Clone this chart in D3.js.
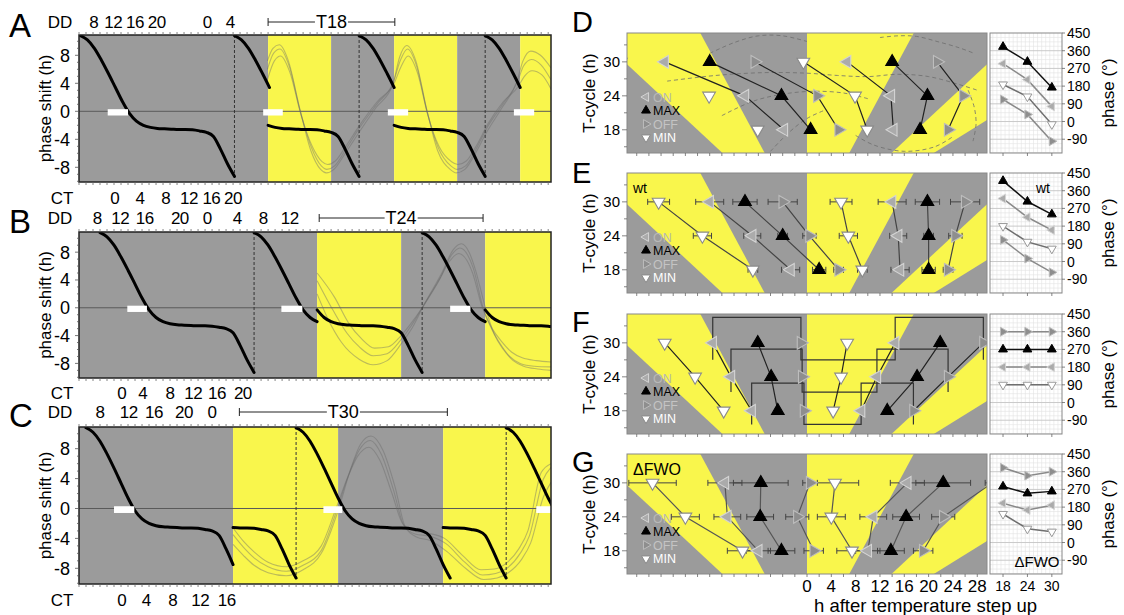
<!DOCTYPE html>
<html>
<head>
<meta charset="utf-8">
<script src="https://cdn.jsdelivr.net/npm/d3@7/dist/d3.min.js"></script>
<style>
html,body{margin:0;padding:0;background:#fff;}
svg{display:block;font-family:"Liberation Sans",Arial,Helvetica,sans-serif;}
</style>
</head>
<body>
<svg id="chart" width="1124" height="615"></svg>
<script>
// ================= DATA =================
// PRC shape: phase shift (h) against oscillator phase (h)
const prcPhase = [0,1,2,3,4,5,6,7,8,9,10,11,12,13,14,15,16,17,18,19,20,21,22];
const prcValue = [10.8,10.2,9.0,7.3,5.4,3.4,1.4,-0.3,-1.4,-2.0,-2.3,-2.45,-2.5,-2.55,-2.6,-2.6,-2.65,-2.8,-3.0,-3.6,-5.4,-7.5,-9.3];

// black curve pieces: [time (h) at which phase p0 sits, p0, p1]
const piecesA = [[0.2,0,22],[22.2,0,5],[27,9,22],[40,0,5],[45,9,22],[58,0,5]];
const piecesB = [[3,0,22],[25,0,9],[34,7,22],[49,0,9],[58,7,17]];
const piecesC = [[1,0,21],[22,13,22],[31,0,22],[52,13,22],[61,0,7]];

// dashed verticals (h)
const stepsA = [22.2,40,58];
const stepsB = [25,49];
const stepsC = [31,61];

// background bands [from h, to h, c=cold / w=warm]
const bandsA = [[0,27,'c'],[27,36,'w'],[36,45,'c'],[45,54,'w'],[54,63,'c'],[63,67.4,'w']];
const bandsB = [[0,34,'c'],[34,46,'w'],[46,58,'c'],[58,67.4,'w']];
const bandsC = [[0,22,'c'],[22,37,'w'],[37,52,'c'],[52,67.4,'w']];

// white bars [from h, to h]
const barsA = [[4.1,7.0],[26.3,29.1],[44.1,47.0],[62.1,65.0]];
const barsB = [[6.9,9.7],[28.9,31.9],[53.0,55.9]];
const barsC = [[5.0,7.9],[34.9,37.6],[65.3,67.4]];

// faint simulated traces [h, phase shift]
const traceA1 = [[26.9,6.0],[27.8,8.3],[28.7,8.9],[30,6.5],[31.6,0],[33.2,-5.2],[34.6,-7.8],[35.4,-8.3],[36.5,-7.8],[38,-5.6],[40.1,-2.3],[42.5,1.0],[44.9,4.2],[45.9,7.3],[46.9,8.9],[48.2,6.5],[49.7,0],[51.3,-5.2],[53.1,-7.8],[54,-8.3],[55.2,-7.8],[56.6,-5.6],[58.3,-2.3],[60.5,1],[62.6,4.2],[63.5,6.5],[64.6,7.4],[66,6.6],[67.4,4.5]];
const traceA2 = [[26.9,7.2],[27.7,9.0],[28.6,9.5],[29.9,7.2],[31.5,0.5],[33.1,-5.6],[34.5,-8.3],[35.3,-8.8],[36.4,-8.3],[37.9,-6.2],[40,-3],[42.4,0.5],[44.8,3.8],[45.8,7.8],[46.8,9.4],[48.1,7.2],[49.6,0.5],[51.2,-5.6],[53,-8.3],[53.9,-8.8],[55.1,-8.3],[56.5,-6.2],[58.2,-3],[60.4,0.5],[62.5,4.2],[63.4,7.2],[64.5,8.6],[65.9,8],[67.4,6.2]];
const traceA3 = [[26.9,4.5],[27.9,7.2],[28.8,7.9],[30.1,5.6],[31.7,-0.5],[33.3,-5],[34.7,-7.2],[35.5,-7.6],[36.6,-7.1],[38.1,-5],[40.2,-1.8],[42.6,1.4],[45,4.0],[46,6.4],[47,7.9],[48.3,5.6],[49.8,-0.5],[51.4,-5],[53.2,-7.2],[54.1,-7.6],[55.3,-7.1],[56.7,-5],[58.4,-1.8],[60.6,1.4],[62.7,3.5],[63.6,5],[64.7,5.8],[66.1,5.2],[67.4,3.2]];
const traceB1 = [[34,3.9],[36.3,-0.4],[38.3,-3.7],[40,-5.6],[42,-6.9],[44,-6.6],[45.9,-4.7],[47.5,-2.5],[49,0],[51.6,4.3],[53.2,7.6],[54.4,8.6],[55.5,7.6],[56.3,5.7],[57.7,0],[59,-3.2],[60.1,-5.1],[61.5,-7],[63,-8],[65,-8.4],[67.4,-8.5]];
const traceB2 = [[34,2.0],[35.5,-1.5],[37.5,-5],[40,-7.4],[42,-8.2],[44,-7.6],[46,-5.2],[47.8,-2.5],[49.2,0.3],[51.8,5],[53.4,8.3],[54.6,9.2],[55.7,8.0],[56.6,5.5],[57.9,0.5],[59.3,-3.8],[60.6,-6],[62,-7.6],[63.5,-8.4],[65.5,-8.8],[67.4,-9]];
const traceB3 = [[34,5],[36.5,1.5],[38.5,-2.2],[40.3,-4.4],[42.2,-5.8],[44.2,-5.6],[46,-4],[47.6,-2],[49,0],[51.3,3.8],[53,6.8],[54.2,7.8],[55.4,6.8],[56.2,5],[57.6,0],[59,-3],[60.3,-4.8],[61.8,-6.4],[63.3,-7.2],[65.3,-7.6],[67.4,-7.8]];
const traceC1 = [[22,-3.5],[23.5,-5.2],[25,-6.6],[27,-7.8],[29.6,-8.4],[32,-7.6],[34.6,-5.6],[36.9,0],[38.5,4.5],[40,7.8],[41.6,9.1],[43.2,7.2],[44.9,2.5],[46.4,-2.3],[48,-3.4],[50,-3.7],[52.4,-4.7],[55,-7.1],[57.6,-8.9],[59.5,-8.7],[61.1,-8],[63,-6],[64.3,-3.7],[66.3,3.9],[67.4,5.5]];
const traceC2 = [[22,-4.8],[23.5,-6.3],[25,-7.6],[27,-8.6],[29.6,-9],[32,-8.2],[34.6,-6],[37.1,0],[38.7,5],[40.2,8.6],[41.7,9.7],[43.4,7.8],[45.1,3],[46.6,-2.5],[48.2,-3.8],[50.2,-4.3],[52.6,-5.8],[55.2,-8],[57.8,-9.5],[59.7,-9.3],[61.3,-8.6],[63.2,-6.8],[64.5,-4.6],[66.3,1.5],[67.4,3.5]];
const traceC3 = [[22,-2.6],[23.5,-4.4],[25,-5.8],[27,-7.2],[29.6,-7.8],[32,-7.0],[34.6,-5.0],[36.7,0],[38.3,4],[39.8,7],[41.4,8.2],[43,6.4],[44.7,2],[46.2,-2],[47.8,-3],[49.8,-3.3],[52.2,-4],[54.8,-6.3],[57.4,-8.2],[59.3,-8.1],[60.9,-7.4],[62.8,-5.4],[64.1,-3],[66,4.8],[67.4,6]];

// tick labels of panels A-C (positions in h)
const ddPosA = [2.1,4.9,8.0,11.1,18.3,21.6], ddLabA = ['8','12','16','20','0','4'];
const ctPosA = [5.1,8.7,12.4,15.7,18.9,22.0], ctLabA = ['0','4','8','12','16','20'];
const ddPosB = [2.6,5.9,9.4,14.4,18.3,22.6,26.3,30.1], ddLabB = ['8','12','16','20','0','4','8','12'];
const ctPosB = [6.1,9.1,13.0,16.3,19.7,23.4], ctLabB = ['0','4','8','12','16','20'];
const ddPosC = [3.0,7.1,10.7,15.0,19.0], ddLabC = ['8','12','16','20','0'];
const ctPosC = [6.1,9.6,13.4,17.3,21.1], ctLabC = ['0','4','8','12','16'];
const yTicksABC = [-8,-4,0,4,8];
const bracketA = [27.0,45.1], bracketB = [34.3,57.7], bracketC = [22.9,52.6];

// panels D-G: phase (h after temperature step up) for T-cycles
const cycleT = [18,24,30];
const dON = [14.2,13.8,6.6], dMAX = [18.6,19.8,14.0], dOFF = [23.2,25.7,21.4], dMIN = [9.9,7.9,-0.6];
const eON = [15.3,15.0,14.0], eMAX = [20.0,20.0,19.8], eOFF = [23.2,24.4,26.0], eMIN = [9.1,6.8,5.6];
const eONerr = [1.5,1.4,2.3], eMAXerr = [1.1,0.8,2.0], eOFFerr = [0.8,1.1,2.4], eMINerr = [0.8,1.5,1.8];
const fON = [8.9,11.5,14.5], fMAX = [13.2,18.1,21.9], fOFF = [17.5,23.2,29.0], fMIN = [4.3,5.6,6.6];
const fHigh = [22.9,28.9,34.5], fLow = [15.6,21.3,27.0];
const gON = [10.0,10.9,16.5], gMAX = [13.8,16.3,22.4], gOFF = [19.1,22.4,30.5], gMIN = [7.4,4.0,4.6];
const gONerr = [2.0,2.2,2.8], gMAXerr = [2.2,2.2,4.5], gOFFerr = [1.6,1.9,1.2], gMINerr = [2.5,2.3,3.9];
// dashed model trajectories in D [h, T]
const dArc1 = [[-16,31.5],[-12,33.4],[-8,34.6],[-4,34.6],[0,33.6]];
const dArc2 = [[-23,26.6],[-15,27.6],[-7,28.1],[0,28],[5,27.6],[10,27.4],[15,27.8],[20,27.4],[25,26],[28,25]];
const dArc3 = [[-14,20.5],[-9,23],[-4,24.3],[1,24.8],[6,24.5],[10,23.5]];
const dArc4 = [[-6,14.2],[-3,17.5],[0,20],[3,21.5]];
const dArc5 = [[8,17],[11,15.3],[16,14.2],[21,15],[24,16.8]];
const dArc6 = [[12,34.3],[15,34.6],[18,34.5],[21.4,33.6],[25,32.5],[27.5,31.5]];
const dArc7 = [[26.5,25],[27.5,22],[27.8,19],[27.3,16]];

// small phase panels (degrees)
const sD_ON = [294,213,77], sD_MAX = [380,304,173], sD_OFF = [112,36,-100], sD_MIN = [188,127,-14];
const sE_ON = [320,225,160], sE_MAX = [410,305,240], sE_OFF = [110,15,-55], sE_MIN = [180,100,65];
const sF_ON = [180,180,180], sF_MAX = [270,270,270], sF_OFF = [360,360,360], sF_MIN = [90,90,90];
const sG_ON = [200,165,190], sG_MAX = [285,250,260], sG_OFF = [380,340,360], sG_MIN = [145,70,55];
const phaseTicks = [-90,0,90,180,270,360,450];
const hTicksG = [0,4,8,12,16,20,24,28];
const tTicks = [18,24,30];

// ================= DRAWING =================
const svg = d3.select('#chart');
const defs = svg.append('defs');
const YEL = '#f9f64c', GRY = '#9b9b9b';

// ---------- panels A-C ----------
const abcL = 79, abcR = 551;
const xABC = d3.scaleLinear().domain([0,67.4]).range([abcL,abcR]);
const panelsABC = [
  {id:'A', top:35, bottom:182, bands:bandsA, pieces:piecesA, steps:stepsA, bars:barsA, traces:[traceA1,traceA2,traceA3],
   ddPos:ddPosA, ddLab:ddLabA, ctPos:ctPosA, ctLab:ctLabA, ddY:22, ctY:198, br:bracketA, brLab:'T18', letterY:37},
  {id:'B', top:232, bottom:378, bands:bandsB, pieces:piecesB, steps:stepsB, bars:barsB, traces:[traceB1,traceB2,traceB3],
   ddPos:ddPosB, ddLab:ddLabB, ctPos:ctPosB, ctLab:ctLabB, ddY:218, ctY:393, br:bracketB, brLab:'T24', letterY:233},
  {id:'C', top:427, bottom:584, bands:bandsC, pieces:piecesC, steps:stepsC, bars:barsC, traces:[traceC1,traceC2,traceC3],
   ddPos:ddPosC, ddLab:ddLabC, ctPos:ctPosC, ctLab:ctLabC, ddY:412, ctY:600, br:bracketC, brLab:'T30', letterY:427}
];

panelsABC.forEach(P => {
  const x = xABC;
  const y = d3.scaleLinear().domain([-10.1,10.9]).range([P.bottom,P.top]);
  const g = svg.append('g');
  const cid = 'clip' + P.id;
  defs.append('clipPath').attr('id',cid).append('rect')
    .attr('x',abcL).attr('y',P.top).attr('width',abcR-abcL).attr('height',P.bottom-P.top);
  const pl = g.append('g').attr('clip-path',`url(#${cid})`);
  pl.selectAll('rect.band').data(P.bands).join('rect')
    .attr('x',d=>x(d[0])).attr('width',d=>x(d[1])-x(d[0]))
    .attr('y',P.top).attr('height',P.bottom-P.top)
    .attr('fill',d=>d[2]==='w'?YEL:GRY);
  pl.append('line').attr('x1',abcL).attr('x2',abcR).attr('y1',y(0)).attr('y2',y(0))
    .attr('stroke','#5a5a5a').attr('stroke-width',1);
  const ln = d3.line().x(d=>x(d[0])).y(d=>y(d[1])).curve(d3.curveMonotoneX);
  P.traces.forEach(tr => {
    pl.append('path').attr('d',ln(tr)).attr('fill','none')
      .attr('stroke','#6a6a6a').attr('stroke-opacity',0.42).attr('stroke-width',1.1);
  });
  P.steps.forEach(s => {
    pl.append('line').attr('x1',x(s)).attr('x2',x(s)).attr('y1',P.top).attr('y2',y(-9.2))
      .attr('stroke','#333').attr('stroke-width',1).attr('stroke-dasharray','3,2');
  });
  P.pieces.forEach(([x0,p0,p1]) => {
    const pts = prcPhase.filter(p => p>=p0 && p<=p1).map(p => [x0 + p - p0, prcValue[p]]);
    pl.append('path').attr('d',ln(pts)).attr('fill','none')
      .attr('stroke','#000').attr('stroke-width',3).attr('stroke-linecap','round');
  });
  pl.selectAll('rect.bar').data(P.bars).join('rect')
    .attr('x',d=>x(d[0])).attr('width',d=>x(d[1])-x(d[0]))
    .attr('y',y(0.3)).attr('height',y(-0.6)-y(0.3)).attr('fill','#fff');
  g.append('rect').attr('x',abcL).attr('y',P.top).attr('width',abcR-abcL).attr('height',P.bottom-P.top)
    .attr('fill','none').attr('stroke','#222').attr('stroke-width',1.5);
  // minor ticks top and bottom
  const hT = d3.range(0,68,1);
  g.selectAll('line.tt').data(hT).join('line')
    .attr('x1',d=>x(d)).attr('x2',d=>x(d)).attr('y1',P.top).attr('y2',P.top-3)
    .attr('stroke','#666').attr('stroke-width',0.8);
  g.selectAll('line.tb').data(hT).join('line')
    .attr('x1',d=>x(d)).attr('x2',d=>x(d)).attr('y1',P.bottom).attr('y2',P.bottom+3)
    .attr('stroke','#666').attr('stroke-width',0.8);
  // left axis
  const vT = d3.range(-10,11,1);
  g.selectAll('line.ty').data(vT).join('line')
    .attr('x1',abcL).attr('x2',d=>abcL-(d%4===0?4:2)).attr('y1',d=>y(d)).attr('y2',d=>y(d))
    .attr('stroke','#555').attr('stroke-width',0.8);
  g.selectAll('text.yl').data(yTicksABC).join('text')
    .attr('x',70).attr('y',d=>y(d)).attr('dy','0.36em').attr('text-anchor','end')
    .attr('font-size',18).text(d=>d);
  g.append('text').attr('transform',`translate(45,${(P.top+P.bottom)/2}) rotate(-90)`)
    .attr('text-anchor','middle').attr('dy','0.35em').attr('font-size',17).text('phase shift (h)');
  // DD labels
  g.append('text').attr('x',60).attr('y',P.ddY).attr('dy','0.36em').attr('text-anchor','middle').attr('font-size',17).text('DD');
  g.selectAll('text.dd').data(P.ddPos).join('text')
    .attr('x',d=>x(d)).attr('y',P.ddY).attr('dy','0.36em').attr('text-anchor','middle')
    .attr('font-size',17).attr('letter-spacing',-0.5).text((d,i)=>P.ddLab[i]);
  g.append('text').attr('x',62).attr('y',P.ctY).attr('dy','0.36em').attr('text-anchor','middle').attr('font-size',17).text('CT');
  g.selectAll('text.ct').data(P.ctPos).join('text')
    .attr('x',d=>x(d)).attr('y',P.ctY).attr('dy','0.36em').attr('text-anchor','middle')
    .attr('font-size',17).attr('letter-spacing',-0.5).text((d,i)=>P.ctLab[i]);
  // bracket
  const bx1 = x(P.br[0]), bx2 = x(P.br[1]), bm = (bx1+bx2)/2;
  const bt = g.append('text').attr('x',bm).attr('y',P.ddY).attr('dy','0.36em').attr('text-anchor','middle')
    .attr('font-size',18).text(P.brLab);
  const tw = bt.node().getComputedTextLength();
  g.append('line').attr('x1',bx1).attr('x2',bm-tw/2-1).attr('y1',P.ddY).attr('y2',P.ddY).attr('stroke','#222').attr('stroke-width',1);
  g.append('line').attr('x1',bm+tw/2+1).attr('x2',bx2).attr('y1',P.ddY).attr('y2',P.ddY).attr('stroke','#222').attr('stroke-width',1);
  [bx1,bx2].forEach(bx => g.append('line').attr('x1',bx).attr('x2',bx).attr('y1',P.ddY-4).attr('y2',P.ddY+4).attr('stroke','#222').attr('stroke-width',1));
  g.append('text').attr('x',9).attr('y',P.letterY).attr('font-size',33).text(P.id);
});

// ---------- panels D-G ----------
const xR = d3.scaleLinear().domain([-29.6,29.6]).range([627,987]);
const xS = d3.scaleLinear().domain([14.8,32.5]).range([990,1062]);
const warmFrac = [[-1,-0.5],[0,0.5],[1,1.5]];
const TLO = 13.9, THI = 35.1, PH = 120;
const seriesNames = ['ON','MAX','OFF','MIN'];
const mk = {
  ON:  {rot:-90, fill:'#ababab', stroke:'#d4d4d4', txt:'#b8b8b8'},
  MAX: {rot:0,   fill:'#000000', stroke:'#000000', txt:'#000000'},
  OFF: {rot:90,  fill:'#8e8e8e', stroke:'#bdbdbd', txt:'#c4c4c4'},
  MIN: {rot:180, fill:'#ffffff', stroke:'#8a8a8a', txt:'#ffffff'}
};
const tri = size => d3.symbol(d3.symbolTriangle, size)();

const panelsR = [
  {id:'D', top:33, letterY:32, data:{ON:dON,MAX:dMAX,OFF:dOFF,MIN:dMIN}, err:null, noLeft:['MIN'],
   arcs:[dArc1,dArc2,dArc3,dArc4,dArc5,dArc6,dArc7], lineColor:'#222',
   small:{ON:sD_ON,MAX:sD_MAX,OFF:sD_OFF,MIN:sD_MIN}},
  {id:'E', top:173, letterY:183, data:{ON:eON,MAX:eMAX,OFF:eOFF,MIN:eMIN},
   err:{ON:eONerr,MAX:eMAXerr,OFF:eOFFerr,MIN:eMINerr}, noLeft:[], lineColor:'#444', tag:'wt',
   small:{ON:sE_ON,MAX:sE_MAX,OFF:sE_OFF,MIN:sE_MIN}},
  {id:'F', top:314, letterY:332, data:{ON:fON,MAX:fMAX,OFF:fOFF,MIN:fMIN}, err:null, noLeft:['OFF'], wave:true, lineColor:'#222',
   small:{ON:sF_ON,MAX:sF_MAX,OFF:sF_OFF,MIN:sF_MIN}},
  {id:'G', top:454, letterY:472, data:{ON:gON,MAX:gMAX,OFF:gOFF,MIN:gMIN},
   err:{ON:gONerr,MAX:gMAXerr,OFF:gOFFerr,MIN:gMINerr}, noLeft:[], lineColor:'#555', tag:'ΔFWO', xlabels:true,
   small:{ON:sG_ON,MAX:sG_MAX,OFF:sG_OFF,MIN:sG_MIN}}
];

panelsR.forEach(P => {
  const top = P.top, bot = top + PH;
  const y = d3.scaleLinear().domain([TLO,THI]).range([bot,top]);
  const g = svg.append('g');
  const cid = 'clip' + P.id;
  defs.append('clipPath').attr('id',cid).append('rect').attr('x',627).attr('y',top).attr('width',360).attr('height',PH);
  const pl = g.append('g').attr('clip-path',`url(#${cid})`);
  pl.append('rect').attr('x',627).attr('y',top).attr('width',360).attr('height',PH).attr('fill',GRY);
  pl.selectAll('path.warm').data(warmFrac).join('path')
    .attr('d',([a,b]) => d3.line()([[xR(a*TLO),y(TLO)],[xR(b*TLO),y(TLO)],[xR(b*THI),y(THI)],[xR(a*THI),y(THI)]]) + 'Z')
    .attr('fill',YEL);
  const ln = d3.line().x(d=>xR(d[0])).y(d=>y(d[1]));
  if (P.arcs) {
    const lc = d3.line().x(d=>xR(d[0])).y(d=>y(d[1])).curve(d3.curveCatmullRom);
    P.arcs.forEach(a => pl.append('path').attr('d',lc(a)).attr('fill','none')
      .attr('stroke','#6e6e6e').attr('stroke-width',1).attr('stroke-dasharray','4,3').attr('stroke-opacity',0.8));
  }
  if (P.wave) {
    cycleT.forEach((t,i) => {
      const a = P.data.ON[i]-t, b = P.data.OFF[i]-t, c = P.data.ON[i], d = P.data.OFF[i];
      const hi = fHigh[i], lo = fLow[i];
      pl.append('path').attr('d',ln([[a,lo],[a,hi],[b,hi],[b,lo],[c,lo],[c,hi],[d,hi],[d,lo]]))
        .attr('fill','none').attr('stroke','#333').attr('stroke-width',1.2);
    });
  }
  seriesNames.forEach(s => {
    const vals = P.data[s];
    [0,-1].forEach(c => {
      if (c === -1 && P.noLeft.includes(s)) return;
      const pts = cycleT.map((t,i) => [vals[i] + c*t, t]);
      pl.append('path').attr('d',ln(pts)).attr('fill','none').attr('stroke',P.lineColor).attr('stroke-width',1.2);
    });
  });
  if (P.err) {
    seriesNames.forEach(s => {
      const vals = P.data[s], er = P.err[s];
      [0,-1].forEach(c => {
        cycleT.forEach((t,i) => {
          const v = vals[i] + c*t, yy = y(t);
          const xa = xR(v-er[i]), xb = xR(v+er[i]);
          pl.append('line').attr('x1',xa).attr('x2',xb).attr('y1',yy).attr('y2',yy).attr('stroke','#444').attr('stroke-width',1);
          [xa,xb].forEach(xx => pl.append('line').attr('x1',xx).attr('x2',xx).attr('y1',yy-3).attr('y2',yy+3).attr('stroke','#444').attr('stroke-width',1));
        });
      });
    });
  }
  seriesNames.forEach(s => {
    const vals = P.data[s];
    [0,-1].forEach(c => {
      cycleT.forEach((t,i) => {
        pl.append('path').attr('d',tri(70))
          .attr('transform',`translate(${xR(vals[i]+c*t)},${y(t)}) rotate(${mk[s].rot})`)
          .attr('fill',mk[s].fill).attr('stroke',mk[s].stroke).attr('stroke-width',1.1);
      });
    });
  });
  // legend
  seriesNames.forEach((s,k) => {
    const ly = top + 64 + k*13.5;
    g.append('path').attr('d',tri(34)).attr('transform',`translate(646,${ly}) rotate(${mk[s].rot})`)
      .attr('fill',mk[s].fill).attr('stroke',mk[s].stroke).attr('stroke-width',1);
    g.append('text').attr('x',653).attr('y',ly).attr('dy','0.36em').attr('font-size',12.5)
      .attr('fill',mk[s].txt).text(s);
  });
  if (P.tag) {
    g.append('text').attr('x',633).attr('y',top+15).attr('dy','0.36em')
      .attr('font-size',P.tag==='wt'?14:16).text(P.tag);
  }
  g.append('rect').attr('x',627).attr('y',top).attr('width',360).attr('height',PH)
    .attr('fill','none').attr('stroke','#888').attr('stroke-width',1);
  // axes
  g.selectAll('line.bt').data(d3.range(-28,29,2)).join('line')
    .attr('x1',d=>xR(d)).attr('x2',d=>xR(d)).attr('y1',bot).attr('y2',bot+3).attr('stroke','#666').attr('stroke-width',0.8);
  g.selectAll('line.lt').data([15,18,21,24,27,30,33]).join('line')
    .attr('x1',627).attr('x2',d=>tTicks.includes(d)?622:624).attr('y1',d=>y(d)).attr('y2',d=>y(d)).attr('stroke','#666').attr('stroke-width',0.8);
  g.selectAll('text.tl').data(tTicks).join('text')
    .attr('x',620).attr('y',d=>y(d)).attr('dy','0.36em').attr('text-anchor','end').attr('font-size',15).text(d=>d);
  g.append('text').attr('transform',`translate(589,${top+PH/2}) rotate(-90)`)
    .attr('text-anchor','middle').attr('dy','0.35em').attr('font-size',17).text('T-cycle (h)');
  g.append('text').attr('x',572).attr('y',P.letterY).attr('font-size',29).text(P.id);

  // ---- small phase panel ----
  const ys = d3.scaleLinear().domain([-160,450]).range([bot,top]);
  const sg = svg.append('g');
  sg.append('rect').attr('x',990).attr('y',top).attr('width',72).attr('height',PH).attr('fill','#fff');
  sg.selectAll('line.gv').data(d3.range(15.5,32.5,1)).join('line')
    .attr('x1',d=>xS(d)).attr('x2',d=>xS(d)).attr('y1',top).attr('y2',bot)
    .attr('stroke',d=>tTicks.includes(d)?'#b5b5b5':'#e2e2e2').attr('stroke-width',d=>tTicks.includes(d)?0.9:0.6);
  sg.selectAll('line.gh').data(d3.range(-157.5,450,22.5)).join('line')
    .attr('x1',990).attr('x2',1062).attr('y1',d=>ys(d)).attr('y2',d=>ys(d))
    .attr('stroke',d=>(d%90===0)?'#c4c4c4':'#e2e2e2').attr('stroke-width',d=>(d%90===0)?0.9:0.6);
  const sl = d3.line().x(d=>xS(d[0])).y(d=>ys(d[1]));
  ['OFF','MIN','ON','MAX'].forEach(s => {
    const pts = cycleT.map((t,i) => [t, P.small[s][i]]);
    sg.append('path').attr('d',sl(pts)).attr('fill','none')
      .attr('stroke',s==='MAX'?'#111':(s==='MIN'?'#6f6f6f':'#8a8a8a')).attr('stroke-width',1.5);
    pts.forEach(p => sg.append('path').attr('d',tri(34))
      .attr('transform',`translate(${xS(p[0])},${ys(p[1])}) rotate(${mk[s].rot})`)
      .attr('fill',mk[s].fill).attr('stroke',s==='MIN'?'#999':mk[s].stroke).attr('stroke-width',1));
  });
  sg.append('rect').attr('x',990).attr('y',top).attr('width',72).attr('height',PH)
    .attr('fill','none').attr('stroke','#888').attr('stroke-width',1);
  sg.selectAll('line.pt').data(phaseTicks).join('line')
    .attr('x1',1062).attr('x2',1065).attr('y1',d=>ys(d)).attr('y2',d=>ys(d)).attr('stroke','#666').attr('stroke-width',0.8);
  sg.selectAll('text.pl').data(phaseTicks).join('text')
    .attr('x',1067).attr('y',d=>ys(d)).attr('dy','0.36em').attr('font-size',14).text(d=>d);
  sg.append('text').attr('transform',`translate(1108,${top+PH/2}) rotate(-90)`)
    .attr('text-anchor','middle').attr('dy','0.35em').attr('font-size',17).text('phase (°)');
  if (P.tag === 'wt') sg.append('text').attr('x',1050).attr('y',top+15).attr('dy','0.36em').attr('text-anchor','end').attr('font-size',14).text('wt');
  if (P.tag === 'ΔFWO') sg.append('text').attr('x',1037).attr('y',bot-12).attr('dy','0.36em').attr('text-anchor','middle').attr('font-size',15).text('ΔFWO');
  sg.selectAll('line.sb').data(cycleT).join('line')
    .attr('x1',d=>xS(d)).attr('x2',d=>xS(d)).attr('y1',bot).attr('y2',bot+3).attr('stroke','#666').attr('stroke-width',0.8);
  if (P.xlabels) {
    g.selectAll('text.xl').data(hTicksG).join('text')
      .attr('x',d=>xR(d)).attr('y',bot+12).attr('dy','0.36em').attr('text-anchor','middle').attr('font-size',17).text(d=>d);
    g.append('text').attr('x',814).attr('y',bot+31).attr('dy','0.36em').attr('font-size',18.5).text('h after temperature step up');
    sg.selectAll('text.sx').data(cycleT).join('text')
      .attr('x',d=>xS(d)).attr('y',bot+12).attr('dy','0.36em').attr('text-anchor','middle').attr('font-size',14).text(d=>d);
  }
});
</script>
</body>
</html>
